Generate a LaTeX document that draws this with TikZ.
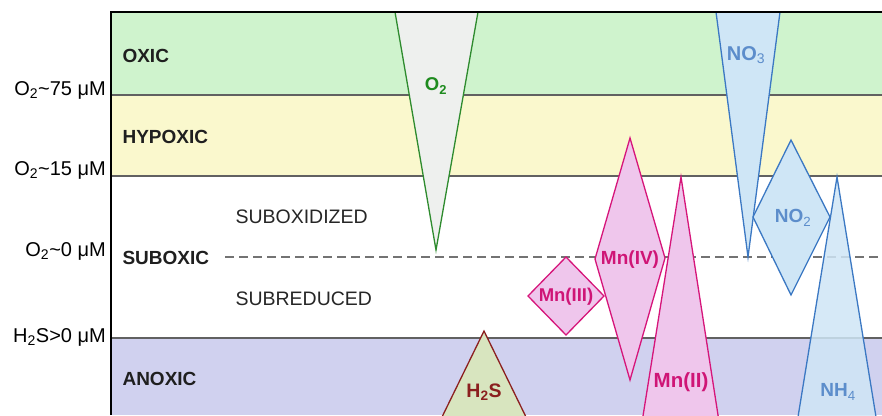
\documentclass[tikz,border=0pt]{standalone}
\usepackage{fontspec}
\setmainfont{Liberation Sans}
\begin{document}
\begin{tikzpicture}[x=1pt,y=-1pt,
  bandline/.style={line width=2.2pt,draw=black!62},
  zonelabel/.style={anchor=base west,font=\bfseries\fontsize{19}{22}\selectfont,text=black!88},
  sublabel/.style={anchor=base west,font=\fontsize{19.5}{22}\selectfont,text=black!85},
  levellabel/.style={anchor=base east,font=\fontsize{20}{24}\selectfont,text=black,inner sep=0pt},
  oxy/.style={fill=oxyfill,draw=oxyline,line width=1.3pt},
  sulf/.style={fill=sulffill,draw=sulfline,line width=1.3pt},
  mang/.style={fill=mangfill,draw=mangline,line width=1.3pt},
  nitro/.style={fill=nitrofill,draw=nitroline,line width=1.3pt},
  species/.style={font=\bfseries\fontsize{18.5}{20}\selectfont,inner sep=0pt}]
\definecolor{oxicband}{HTML}{CFF3CD}
\definecolor{hypoxband}{HTML}{FAF8CD}
\definecolor{anoxband}{HTML}{D0D1EF}
\definecolor{oxyfill}{HTML}{EEF0EE}
\definecolor{oxyline}{HTML}{2E8B2E}
\definecolor{oxytext}{HTML}{1E8B1E}
\definecolor{sulffill}{HTML}{D8E5BF}
\definecolor{sulfline}{HTML}{8B1F1F}
\definecolor{mangfill}{HTML}{EFC6EC}
\definecolor{mangline}{HTML}{D6157A}
\definecolor{mangtext}{HTML}{CF1576}
\definecolor{nitrofill}{HTML}{CFE6F6}
\definecolor{nitroline}{HTML}{3B78C3}
\definecolor{nitrotext}{HTML}{5C8DCB}

\useasboundingbox (0,0) rectangle (882,415);

% redox bands
\fill[oxicband] (111,12) rectangle (882,95);
\fill[hypoxband] (111,95) rectangle (882,176);
\fill[white] (111,176) rectangle (882,338);
\fill[anoxband] (111,338) rectangle (882,415);
\draw[bandline] (111,95) -- (882,95);
\draw[bandline] (111,176) -- (882,176);
\draw[bandline] (111,338) -- (882,338);
\draw[line width=2.2pt,draw=black!55,dash pattern=on 9pt off 5pt] (225,257) -- (882,257);

\begin{scope}
\clip (111,12) rectangle (882,415);
% oxygen wedge
\draw[oxy] (395,12) -- (478,12) -- (436,250) -- cycle;
% sulfide wedge
\draw[sulf] (484,331) -- (547,460) -- (421,460) -- cycle;
% manganese species
\draw[mang] (566,257) -- (604,296) -- (566,335) -- (528,296) -- cycle;
\draw[mang] (630,138) -- (665,258) -- (630,380) -- (595,259) -- cycle;
\draw[mang] (681,177) -- (725,460) -- (636,460) -- cycle;
% nitrogen species
\draw[nitro] (716,12) -- (780,12) -- (748,257) -- cycle;
\draw[nitro] (791,140) -- (830,217) -- (791,295) -- (753,217) -- cycle;
\draw[nitro,fill opacity=0.85] (837,177) -- (883,460) -- (791,460) -- cycle;
\end{scope}

% frame
\draw[line width=1.5pt] (111,12) -- (882,12);
\draw[line width=1.5pt] (111,11.25) -- (111,415);

% species labels
\node[species,text=oxytext] (o2) at (436,86) {O\textsubscript{2}};
\node[species,text=sulfline,font=\bfseries\fontsize{19.5}{22}\selectfont] (h2s) at (484,392) {H\textsubscript{2}S};
\node[species,text=mangtext] (mn3) at (566,297) {Mn(III)};
\node[species,text=mangtext,font=\bfseries\fontsize{19}{20}\selectfont] (mn4) at (630,260) {Mn(IV)};
\node[species,text=mangtext,font=\bfseries\fontsize{20.5}{22}\selectfont] (mn2) at (681,382) {Mn(II)};
\node[species,text=nitrotext,font=\bfseries\fontsize{20}{22}\selectfont] (no3) at (746,55) {NO\textsubscript{\mdseries 3}};
\node[species,text=nitrotext,font=\bfseries\fontsize{19}{22}\selectfont] (no2) at (793,218) {NO\textsubscript{\mdseries 2}};
\node[species,text=nitrotext,font=\bfseries\fontsize{19}{22}\selectfont] (nh4) at (838,392) {NH\textsubscript{\mdseries 4}};

% zone names
\node[zonelabel] (oxic) at (119,62) {OXIC};
\node[zonelabel] (hypoxic) at (119,143) {HYPOXIC};
\node[zonelabel] (suboxic) at (119,264) {SUBOXIC};
\node[zonelabel] (anoxic) at (119,385) {ANOXIC};
\node[sublabel] (subox) at (232,223) {SUBOXIDIZED};
\node[sublabel] (subred) at (232,305) {SUBREDUCED};

% threshold concentrations
\node[levellabel] (t75) at (106,95) {O\textsubscript{2}\textasciitilde 75 μM};
\node[levellabel] (t15) at (106,175) {O\textsubscript{2}\textasciitilde 15 μM};
\node[levellabel] (t0) at (106,256) {O\textsubscript{2}\textasciitilde 0 μM};
\node[levellabel] (th2s) at (106,342) {H\textsubscript{2}S>0 μM};
\end{tikzpicture}
\end{document}
